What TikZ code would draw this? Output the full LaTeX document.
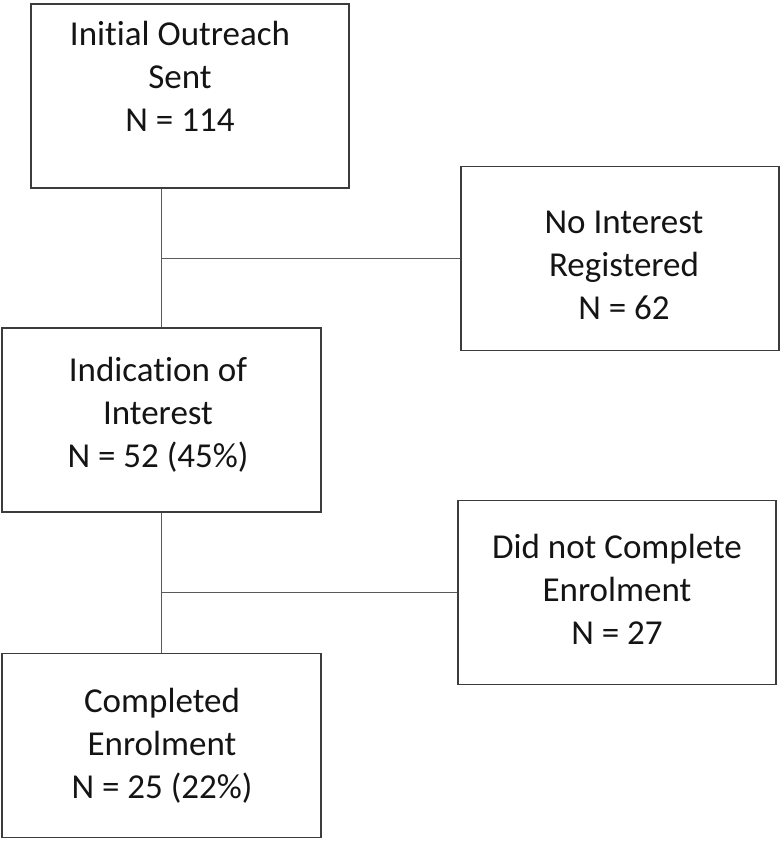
\documentclass[tikz,border=0pt]{standalone}
\usepackage{fontspec}
\setmainfont{Carlito}[Ligatures=NoCommon]
\definecolor{boxline}{RGB}{60,60,60}
\definecolor{connline}{RGB}{90,90,90}
\definecolor{txtcol}{RGB}{20,20,20}
\newcommand{\ls}{\rule[-12.9pt]{0pt}{43pt}}
\begin{document}
\begin{tikzpicture}[x=1pt,y=-1pt,
  box/.style={draw=boxline,line width=1.8pt,minimum width=318pt,minimum height=184pt,inner sep=0pt},
  txt/.style={align=center,inner sep=0pt,text=txtcol,font=\fontsize{35}{43}\selectfont},
  conn/.style={draw=connline,line width=1.8pt}]
\useasboundingbox (0,0) rectangle (783,842);
\node[box] (b1) at (190,96) {};
\node[box] (b2) at (620,258.5) {};
\node[box,minimum width=319pt] (b3) at (161.5,420) {};
\node[box] (b4) at (617,592.5) {};
\node[box,minimum width=319pt] (b5) at (161.5,745.5) {};
\node[txt] (t1) at (180,80.4) {Initial Outreach\ls\\Sent\ls\\N = 114\ls};
\node[txt] (t2) at (624,267.4) {No Interest\ls\\Registered\ls\\N = 62\ls};
\node[txt] (t3) at (158,415.4) {Indication of\ls\\Interest\ls\\N = 52 (45\%)\ls};
\node[txt] (t4) at (617,592.4) {Did not Complete\ls\\Enrolment\ls\\N = 27\ls};
\node[txt] (t5) at (162,746.4) {Completed\ls\\Enrolment\ls\\N = 25 (22\%)\ls};
\coordinate (j1) at (b3.north |- b2.west);
\coordinate (j2) at (b5.north |- b4.west);
\draw[conn] (b3.north |- b1.south) -- (b3.north);
\draw[conn] (j1) -- (b2.west);
\draw[conn] (b3.south) -- (b5.north);
\draw[conn] (j2) -- (b4.west);
\end{tikzpicture}
\end{document}
